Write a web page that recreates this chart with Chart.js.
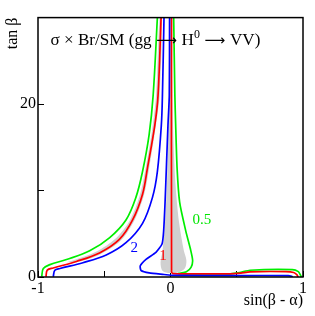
<!DOCTYPE html>
<html>
<head>
<meta charset="utf-8">
<script src="https://cdn.jsdelivr.net/npm/chart.js@4.4.1/dist/chart.umd.min.js"></script>
<style>
  body { margin: 0; background: #fff; }
</style>
</head>
<body>
<canvas id="myChart" width="315" height="316"></canvas>
<script>
// contour lines, [sin(beta-alpha), tan beta]
const greenLeft = [[-0.972,0.03],[-0.960,0.98],[-0.910,1.43],[-0.785,2.02],[-0.610,3.03],[-0.461,4.53],[-0.336,6.60],[-0.261,9.21],[-0.211,12.2],[-0.161,16.5],[-0.131,21.0],[-0.099,30]];
const redLeft = [[-0.940,0.03],[-0.930,0.79],[-0.885,1.04],[-0.710,1.80],[-0.536,2.78],[-0.386,4.35],[-0.286,6.60],[-0.211,9.58],[-0.174,12.6],[-0.118,17.6],[-0.094,21.0],[-0.071,30]];
const blueLeft = [[-0.885,0.03],[-0.873,0.79],[-0.835,0.98],[-0.661,1.65],[-0.485,2.55],[-0.336,3.97],[-0.211,6.21],[-0.136,9.21],[-0.099,12.2],[-0.069,17.6],[-0.061,21.0],[-0.049,30]];
const blueRight = [[-0.007,30],[-0.009,21],[-0.019,17.6],[-0.030,13.1],[-0.041,8.65],[-0.052,5.28],[-0.064,3.82],[-0.110,2.85],[-0.185,2.05],[-0.228,1.30],[-0.222,0.75],[-0.161,0.47],[-0.049,0.29],[0.019,0.18],[0.50,0.17],[0.888,0.17],[0.915,0.09],[0.922,0]];
const redRight = [[0.008,30],[0.008,0.6],[0.02,0.38],[0.2,0.36],[0.45,0.36],[0.53,0.45],[0.6,0.6],[0.87,0.62],[0.93,0.52],[0.955,0.25],[0.963,0]];
const greenRight = [[0.024,30],[0.033,21],[0.039,17.6],[0.05,12.5],[0.069,8.65],[0.116,5.28],[0.150,3.26],[0.167,1.91],[0.155,1.12],[0.12,0.62],[0.06,0.40],[0.15,0.36],[0.45,0.37],[0.52,0.50],[0.6,0.78],[0.92,0.85],[0.965,0.62],[0.98,0.25],[0.988,0]];

// grey uncertainty bands (closed outlines)
const bandLeft = [[-0.790,1.69],[-0.738,1.91],[-0.562,2.92],[-0.412,4.49],[-0.306,6.57],[-0.234,9.33],[-0.189,12.47],[-0.138,17.08],[-0.109,21.01],[-0.082,30],
                  [-0.064,30],[-0.082,21.01],[-0.109,17.64],[-0.161,12.58],[-0.199,9.55],[-0.273,6.52],[-0.375,4.21],[-0.528,2.64],[-0.700,1.74],[-0.790,1.69]];
const bandCenter = [[-0.007,30],[-0.015,17.64],[-0.026,10.9],[-0.041,6.40],[-0.060,3.03],[-0.075,1.69],[-0.064,0.79],[-0.034,0.51],[0.004,0.45],
                    [0.064,0.56],[0.109,1.01],[0.120,1.91],[0.101,3.03],[0.064,6.40],[0.037,10.9],[0.019,17.64],[0.007,30]];

const labelTexts = ['0.5', '2', '1'];
const labelX = [0.236, -0.273, -0.056];
const labelY = [6.63, 3.37, 2.47];
const labelColors = ['#00e600', '#0000ff', '#ff0000'];

const xTicksShown = [-1, 0, 1];
const yTicksShown = [0, 20];

const serif = '"Liberation Serif", "DejaVu Serif", serif';
const arrowFont = '"DejaVu Sans", sans-serif';

// title pieces: text, font, relative size, raise
const titleParts = [
  ['σ × Br/SM (gg', serif, 1, 0],
  [' ⟶ ', arrowFont, 0.85, 0],
  ['H', serif, 1, 0],
  ['0', serif, 0.7, 0.42],
  [' ⟶ ', arrowFont, 0.85, 0],
  ['VV)', serif, 1, 0]
];

function pts(arr) {
  return arr.map(p => ({x: p[0], y: p[1]}));
}

function curve(arr, color, tension) {
  return {
    data: pts(arr),
    showLine: true,
    borderColor: color,
    borderWidth: 1.7,
    pointRadius: 0,
    tension: tension,
    fill: false,
    order: 1
  };
}

function band(arr) {
  return {
    data: pts(arr),
    showLine: true,
    borderWidth: 0,
    borderColor: 'rgba(0,0,0,0)',
    backgroundColor: '#d0d0d0',
    pointRadius: 0,
    tension: 0.3,
    fill: 'shape',
    order: 5
  };
}

const frameAndText = {
  id: 'frameAndText',
  afterDatasetsDraw(chart) {
    const {ctx, chartArea: a, scales: {x, y}} = chart;
    ctx.save();
    ctx.strokeStyle = '#000';
    ctx.lineWidth = 1.5;
    ctx.strokeRect(a.left, a.top, a.right - a.left, a.bottom - a.top);

    ctx.font = '15px ' + serif;
    ctx.textAlign = 'center';
    ctx.textBaseline = 'middle';
    labelTexts.forEach((t, i) => {
      ctx.fillStyle = labelColors[i];
      ctx.fillText(t, x.getPixelForValue(labelX[i]), y.getPixelForValue(labelY[i]));
    });

    // title inside the frame, scaled to the reference width
    const base = 16;
    let w = 0;
    titleParts.forEach(p => {
      ctx.font = (base * p[2]) + 'px ' + p[1];
      w += ctx.measureText(p[0]).width;
    });
    const f = base * 210 / w;
    let tx = 50.5;
    const ty = 45;
    ctx.fillStyle = '#000';
    ctx.textAlign = 'left';
    ctx.textBaseline = 'alphabetic';
    titleParts.forEach(p => {
      ctx.font = (f * p[2]) + 'px ' + p[1];
      ctx.fillText(p[0], tx, ty - f * p[3]);
      tx += ctx.measureText(p[0]).width;
    });
    ctx.restore();
  }
};

new Chart(document.getElementById('myChart'), {
  type: 'scatter',
  data: {
    datasets: [
      curve(greenLeft, '#00ee00', 0.35),
      curve(redLeft, '#ff0000', 0.35),
      curve(blueLeft, '#0000ff', 0.35),
      curve(blueRight, '#0000ff', 0.2),
      curve(redRight, '#ff0000', 0.25),
      curve(greenRight, '#00ee00', 0.25),
      band(bandLeft),
      band(bandCenter)
    ]
  },
  options: {
    responsive: false,
    animation: false,
    layout: { padding: { top: 10, right: 9.5, left: 0, bottom: 0 } },
    plugins: { legend: { display: false }, tooltip: { enabled: false } },
    scales: {
      x: {
        type: 'linear',
        min: -1,
        max: 1,
        afterFit(scale) { scale.height = 39; },
        grid: { drawOnChartArea: false, drawTicks: true, tickLength: -6, color: '#000', lineWidth: 1 },
        border: { display: false },
        ticks: {
          stepSize: 0.5,
          padding: 8,
          color: '#000',
          font: { family: serif, size: 16 },
          maxRotation: 0,
          callback: v => xTicksShown.includes(v) ? String(v) : ''
        },
        title: {
          display: true,
          text: 'sin(β - α)',
          align: 'end',
          color: '#000',
          font: { family: serif, size: 16 },
          padding: { top: 0, bottom: 6 }
        }
      },
      y: {
        type: 'linear',
        min: 0,
        max: 30,
        afterFit(scale) { scale.width = 38; },
        grid: { drawOnChartArea: false, drawTicks: true, tickLength: -6, color: '#000', lineWidth: 1 },
        border: { display: false },
        ticks: {
          stepSize: 10,
          padding: 8,
          color: '#000',
          font: { family: serif, size: 16 },
          callback: v => yTicksShown.includes(v) ? String(v) : ''
        },
        title: {
          display: true,
          text: 'tan β',
          align: 'end',
          color: '#000',
          font: { family: serif, size: 16 },
          padding: { top: 3, bottom: 0 }
        }
      }
    }
  },
  plugins: [frameAndText]
});
</script>
</body>
</html>
